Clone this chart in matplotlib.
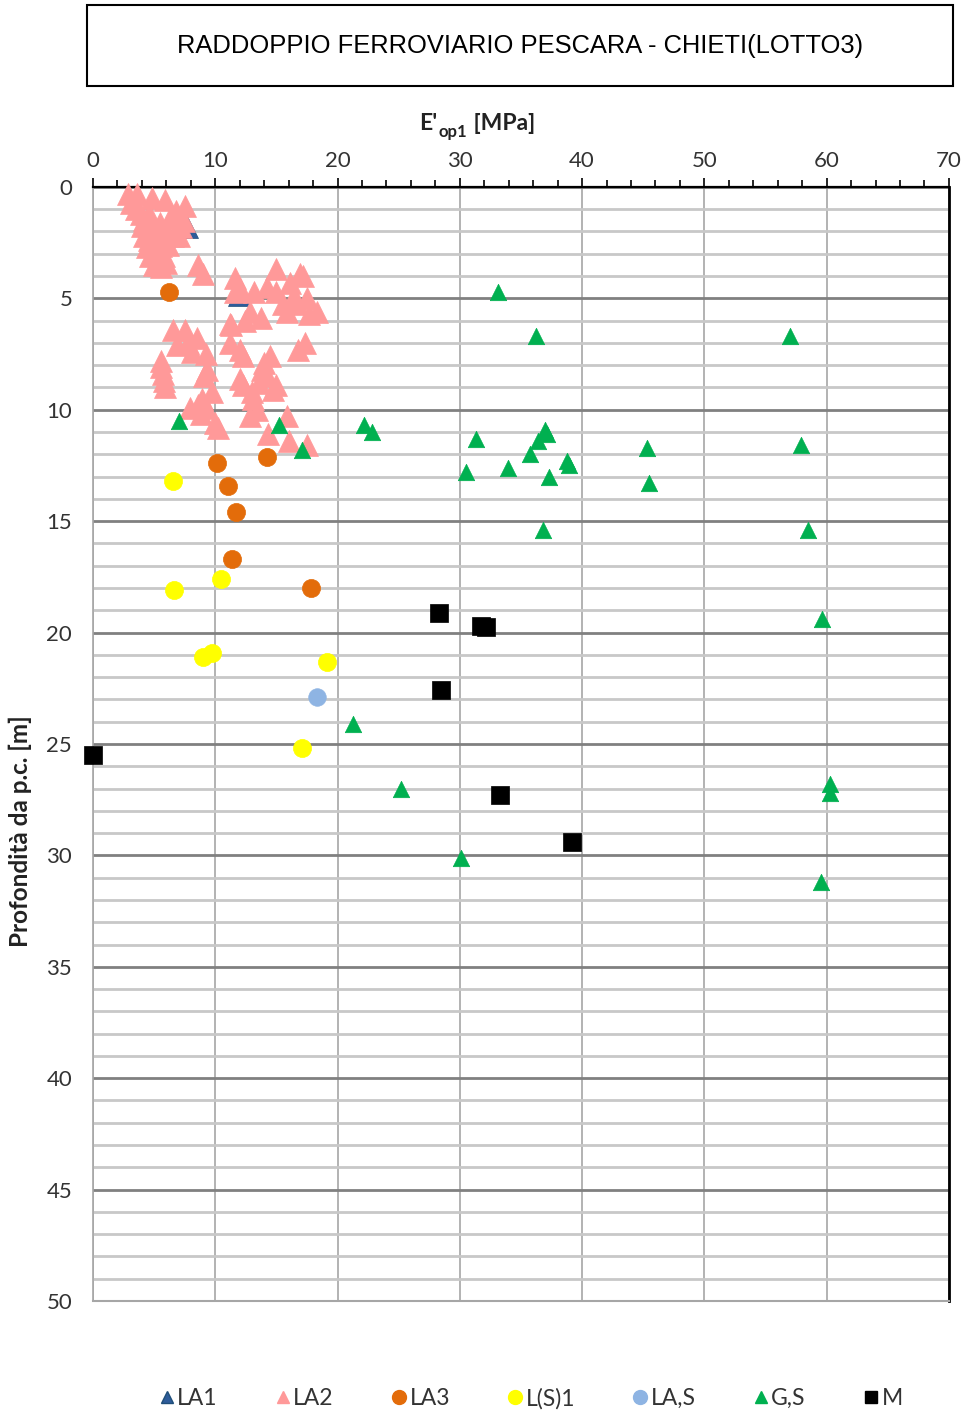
import numpy as np
import matplotlib
matplotlib.use("Agg")
import matplotlib.pyplot as plt
from matplotlib.lines import Line2D
from matplotlib.patches import Rectangle

plt.rcParams['font.family'] = ['Lato', 'DejaVu Sans']

# E'op1 [MPa] vs depth [m], one pair of lists per soil unit
la1_e = [7.7, 11.9]
la1_z = [1.8, 4.85]

la2_e = [2.9, 3.6, 4.8, 5.9, 7.5, 3.1, 3.9, 3.5, 4.2, 4.6, 5.5, 6.3, 7.2, 6.8, 4.0, 5.0,
         6.0, 4.2, 4.6, 5.2, 6.5, 7.0, 4.4, 5.0, 5.6, 6.1, 4.7, 5.3, 5.8, 5.0, 5.6, 6.0,
         8.6, 9.0, 7.4,
         11.6, 11.6, 13.2, 15.0, 16.9, 16.1, 15.0, 17.5, 16.7, 18.3, 15.5, 17.7, 15.9, 12.8,
         13.7, 11.2, 12.4, 14.2, 17.2, 16.4, 12.0,
         11.3, 11.2, 12.0, 12.3, 14.5, 14.0, 16.8, 17.3, 13.8, 12.0, 12.3, 13.6, 14.7, 13.1,
         13.4, 12.8, 15.9, 14.3, 16.0, 17.5, 13.0, 14.2, 15.0,
         6.5, 7.5, 8.5, 9.2, 6.9, 8.1, 7.8, 5.6, 5.6, 5.7, 5.8, 5.9, 9.3, 9.1, 8.9, 9.7,
         7.9, 9.2, 8.8, 10.2, 10.0, 8.6]
la2_z = [0.3, 0.3, 0.5, 0.6, 0.85, 0.7, 1.2, 1.0, 1.5, 1.2, 1.6, 1.4, 1.8, 1.1, 1.75, 1.9,
         2.0, 2.2, 2.4, 2.3, 2.2, 2.2, 2.7, 2.9, 2.65, 2.6, 3.1, 3.5, 3.1, 3.5, 3.6, 3.4,
         3.5, 3.9, 1.55,
         4.1, 4.7, 4.7, 3.7, 3.9, 4.3, 4.7, 5.0, 5.25, 5.6, 5.25, 5.7, 5.6, 5.6,
         5.9, 6.15, 6.0, 4.5, 4.0, 4.9, 4.6,
         6.2, 7.0, 7.3, 7.6, 7.6, 7.9, 7.3, 7.0, 8.2, 8.6, 8.9, 8.8, 9.1, 9.5,
         10.0, 10.3, 10.3, 11.1, 11.4, 11.6, 9.2, 8.5, 8.9,
         6.4, 6.4, 6.8, 7.5, 7.1, 7.4, 7.0, 7.8, 8.1, 8.4, 8.7, 9.0, 8.2, 8.5, 9.5, 9.2,
         9.9, 9.9, 10.2, 10.8, 10.6, 9.8]

la3_e = [6.2, 10.1, 14.2, 11.0, 11.7, 11.4, 17.8]
la3_z = [4.7, 12.4, 12.1, 13.4, 14.6, 16.7, 18.0]

ls1_e = [6.5, 10.5, 6.6, 9.0, 9.7, 19.1, 17.1]
ls1_z = [13.2, 17.6, 18.1, 21.1, 20.9, 21.3, 25.2]

las_e = [18.3]
las_z = [22.9]

gs_e = [33.1, 36.2, 57.0, 7.0, 15.2, 22.2, 22.8, 37.0, 37.1, 36.4, 31.3, 17.1, 35.7, 38.8,
        38.9, 33.9, 30.5, 37.3, 45.3, 45.5, 57.9, 36.8, 58.5, 59.6, 21.3, 25.2, 60.3, 60.3,
        30.1, 59.5]
gs_z = [4.7, 6.7, 6.7, 10.5, 10.7, 10.7, 11.0, 10.9, 11.1, 11.4, 11.3, 11.8, 12.0, 12.3,
        12.5, 12.6, 12.8, 13.0, 11.7, 13.3, 11.6, 15.4, 15.4, 19.4, 24.1, 27.0, 26.8, 27.2,
        30.1, 31.2]

m_e = [28.3, 31.7, 32.1, 28.5, 0.0, 33.3, 39.2]
m_z = [19.1, 19.7, 19.75, 22.6, 25.5, 27.3, 29.4]

labels = ['LA1', 'LA2', 'LA3', 'L(S)1', 'LA,S', 'G,S', 'M']
colors = ['#2E5C9A', '#FF9999', '#E36C0A', '#FFFF00', '#8EB4E3', '#00B050', '#000000']
markers = ['^', '^', 'o', 'o', 'o', '^', 's']
sizes = [250, 250, 170, 170, 160, 140, 150]
series = [(la1_e, la1_z), (la2_e, la2_z), (la3_e, la3_z), (ls1_e, ls1_z),
          (las_e, las_z), (gs_e, gs_z), (m_e, m_z)]

fig = plt.figure(figsize=(9.66, 14.14), dpi=100)
ax = fig.add_axes([0.0963, 0.0799, 0.886, 0.7879])

for (e, z), lab, c, mk, s in zip(series, labels, colors, markers, sizes):
    edge = '#1F4E79' if lab == 'LA1' else c
    ax.scatter(e, z, s=s, marker=mk, color=c, edgecolors=edge, linewidths=0.5,
               zorder=3, label=lab, clip_on=False)

ax.set_xlim(0, 70)
ax.set_ylim(50, 0)
ax.set_xticks(np.arange(0, 71, 10))
ax.set_xticks(np.arange(0, 71, 2), minor=True)
ax.set_yticks(np.arange(0, 51, 5))
ax.set_yticks(np.arange(0, 51, 1), minor=True)

ax.xaxis.tick_top()
ax.tick_params(axis='x', which='major', direction='out', length=6.5, width=1.2,
               color='black', labelsize=16, pad=5, labelcolor='#333333')
ax.tick_params(axis='x', which='minor', direction='out', length=5, width=1.2,
               color='black')
ax.tick_params(axis='y', which='both', length=0, labelsize=16, pad=15,
               labelcolor='#333333')

ax.grid(axis='x', which='major', color='#A6A6A6', linewidth=1.2, zorder=0)
ax.grid(axis='y', which='minor', color='#C8C8C8', linewidth=2.0, zorder=0)
ax.grid(axis='y', which='major', color='#808080', linewidth=2.0, zorder=0)
ax.set_axisbelow(True)

ax.spines['top'].set_color('black')
ax.spines['top'].set_linewidth(1.6)
ax.spines['right'].set_color('black')
ax.spines['right'].set_linewidth(2.0)
ax.spines['left'].set_color('#A6A6A6')
ax.spines['left'].set_linewidth(1.2)
ax.spines['bottom'].set_color('#A6A6A6')
ax.spines['bottom'].set_linewidth(1.5)

# x axis title with subscript built from pieces
t1 = fig.text(0.434, 0.908, "E'", fontsize=16.5, fontweight='bold', ha='left',
              va='baseline', color='#222222')
t2 = ax.annotate("op1", xy=(1, 0), xycoords=t1, xytext=(1, -4),
                 textcoords='offset points', fontsize=12, fontweight='bold',
                 ha='left', va='bottom', color='#222222')
ax.annotate(" [MPa]", xy=(1, 0), xycoords=(t2, t1), fontsize=16.5, fontweight='bold',
            ha='left', va='bottom', color='#222222')

fig.text(0.021, 0.412, "Profondità da p.c. [m]", rotation=90, fontsize=17.5,
         fontweight='bold', ha='center', va='center', color='#222222')

# title box
fig.patches.append(Rectangle((0.090, 0.9392), 0.8965, 0.0573, transform=fig.transFigure,
                             fill=False, edgecolor='black', linewidth=1.5))
fig.text(0.538, 0.9675, "RADDOPPIO FERROVIARIO PESCARA - CHIETI(LOTTO3)",
         family='Liberation Sans', fontsize=18.4, ha='center', va='center')

handles = [Line2D([], [], linestyle='none', marker=mk, color=c,
                  markeredgecolor=('#1F4E79' if lab == 'LA1' else c),
                  markersize=(10 if mk == 'o' else 9), label=lab)
           for lab, c, mk in zip(labels, colors, markers)]
fig.legend(handles=handles, loc='center', bbox_to_anchor=(0.55, 0.011), ncol=7,
           frameon=False, fontsize=16.5, handlelength=0.6, handletextpad=0.15,
           columnspacing=2.55, labelcolor='#333333')

fig.savefig("out.png", dpi=100)
